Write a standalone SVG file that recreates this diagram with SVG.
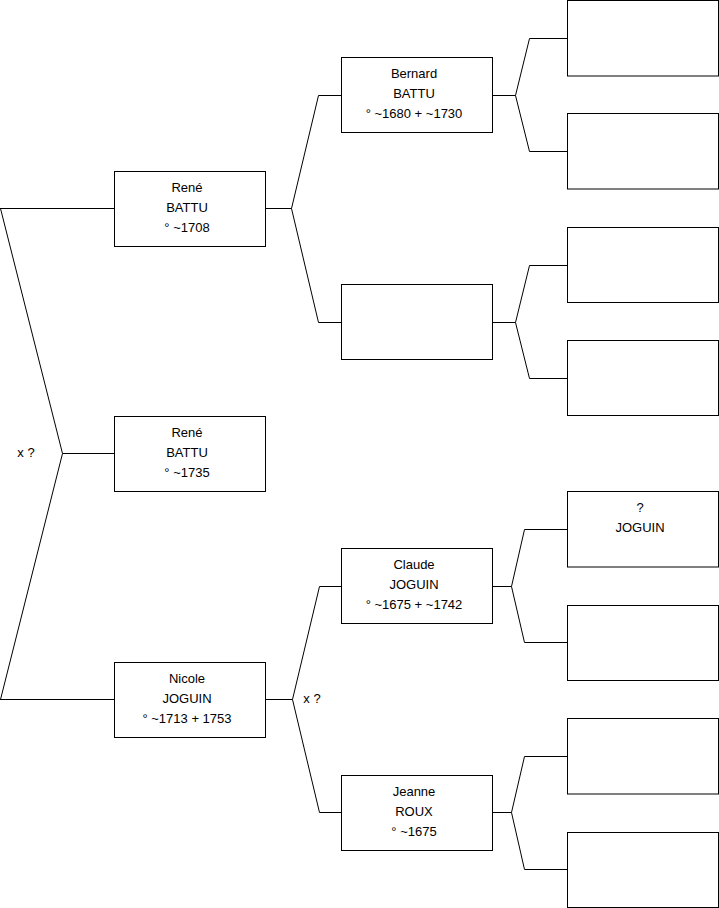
<svg xmlns="http://www.w3.org/2000/svg" width="719" height="908" viewBox="0 0 719 908">
<style>
.box{fill:#fff;stroke:#000;stroke-width:1}
.con{fill:none;stroke:#000;stroke-width:1}
text{font-family:"Liberation Sans",Arial,sans-serif;font-size:13px;fill:#000;text-anchor:middle}
</style>
<rect x="0" y="0" width="719" height="908" fill="#fff"/>
<g id="connectors">
<path class="con" d="M0,208.5 H114.5 M0.5,208.5 L62.5,453.5 L0.5,699.5 M62.5,453.5 H114.5 M0,699.5 H114.5"/>
<path class="con" d="M265.5,208.5 H291.5 L318.5,95.5 H341.5 M291.5,208.5 L318.5,322.5 H341.5"/>
<path class="con" d="M265.5,699.5 H292.5 L319.5,586.5 H341.5 M292.5,699.5 L319.5,812.5 H341.5"/>
<path class="con" d="M492.5,95.5 H515.5 L529.5,38.5 H567.5 M515.5,95.5 L529.5,151.5 H567.5"/>
<path class="con" d="M492.5,322.5 H515.5 L529.5,265.5 H567.5 M515.5,322.5 L529.5,378.5 H567.5"/>
<path class="con" d="M492.5,586.5 H511.5 L524.5,529.5 H567.5 M511.5,586.5 L524.5,642.5 H567.5"/>
<path class="con" d="M492.5,812.5 H511.5 L524.5,756.5 H567.5 M511.5,812.5 L524.5,869.5 H567.5"/>
<text x="26" y="457">x ?</text>
<text x="312" y="703">x ?</text>
</g>
<g id="rene1708">
<rect class="box" x="114.5" y="171.5" width="151" height="75"/>
<text x="187" y="192">René</text>
<text x="187" y="212">BATTU</text>
<text x="187" y="232">° ~1708</text>
</g>
<g id="rene1735">
<rect class="box" x="114.5" y="416.5" width="151" height="75"/>
<text x="187" y="437">René</text>
<text x="187" y="457">BATTU</text>
<text x="187" y="477">° ~1735</text>
</g>
<g id="nicole">
<rect class="box" x="114.5" y="662.5" width="151" height="75"/>
<text x="187" y="683">Nicole</text>
<text x="187" y="703">JOGUIN</text>
<text x="187" y="723">° ~1713 + 1753</text>
</g>
<g id="bernard">
<rect class="box" x="341.5" y="57.5" width="151" height="75"/>
<text x="414" y="78">Bernard</text>
<text x="414" y="98">BATTU</text>
<text x="414" y="118">° ~1680 + ~1730</text>
</g>
<g id="empty2">
<rect class="box" x="341.5" y="284.5" width="151" height="75"/>
</g>
<g id="claude">
<rect class="box" x="341.5" y="548.5" width="151" height="75"/>
<text x="414" y="569">Claude</text>
<text x="414" y="589">JOGUIN</text>
<text x="414" y="609">° ~1675 + ~1742</text>
</g>
<g id="jeanne">
<rect class="box" x="341.5" y="775.5" width="151" height="75"/>
<text x="414" y="796">Jeanne</text>
<text x="414" y="816">ROUX</text>
<text x="414" y="836">° ~1675</text>
</g>
<g id="g3a"><rect class="box" x="567.5" y="0.5" width="151" height="75.5"/></g>
<g id="g3b"><rect class="box" x="567.5" y="113.5" width="151" height="75.5"/></g>
<g id="g3c"><rect class="box" x="567.5" y="227.5" width="151" height="75"/></g>
<g id="g3d"><rect class="box" x="567.5" y="340.5" width="151" height="75"/></g>
<g id="g3e">
<rect class="box" x="567.5" y="491.5" width="151" height="75.5"/>
<text x="640" y="512">?</text>
<text x="640" y="532">JOGUIN</text>
</g>
<g id="g3f"><rect class="box" x="567.5" y="605.5" width="151" height="75"/></g>
<g id="g3g"><rect class="box" x="567.5" y="718.5" width="151" height="75.5"/></g>
<g id="g3h"><rect class="box" x="567.5" y="832.5" width="151" height="75"/></g>
</svg>
